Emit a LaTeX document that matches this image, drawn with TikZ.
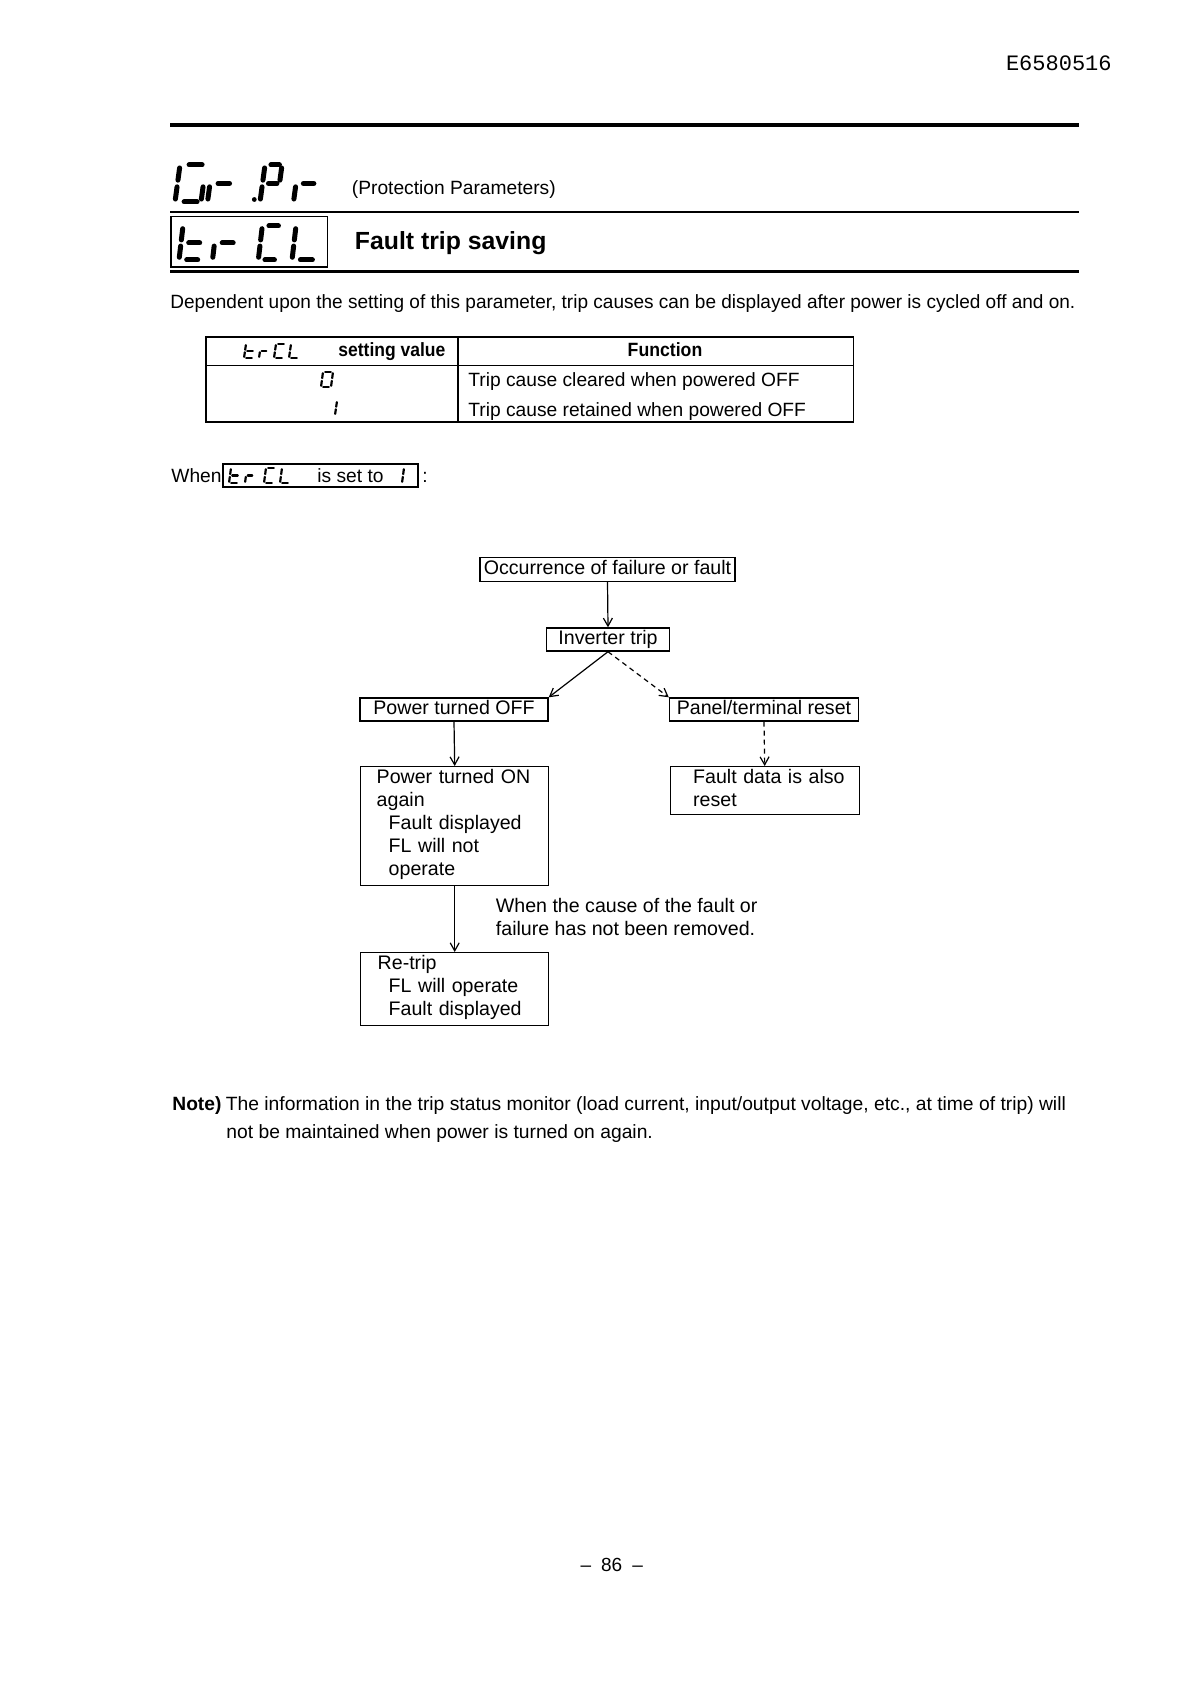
\documentclass[tikz,border=0pt]{standalone}
\usepackage{graphicx}
\usepackage{fontspec}
\setmainfont{Liberation Sans}
\newfontfamily\monof{Liberation Mono}
\usetikzlibrary{arrows.meta}
\newlength\fwtmp
\newcommand\fitw[2]{\settowidth\fwtmp{#2}\pgfmathsetmacro\fwfac{#1/\fwtmp}\global\let\lastfac\fwfac\scalebox{\fwfac}[1]{#2}}
\newcommand\fs{\fontsize{9.8}{11.5}\selectfont}
\newcommand\bodyf{\fontsize{9.6}{12}\selectfont}
\newcommand\dstrut[1]{\rule[-#1]{0pt}{#1}}
% seven-segment parts (local cell: u 0..1, v 0..1)
\def\sgL{0.22}\def\sgR{0.78}
\newcommand\ssga{\draw[segln] (\sgL,1)--(\sgR,1);}
\newcommand\ssgb{\draw[segln] (1,0.92)--(1,0.59);}
\newcommand\ssgc{\draw[segln] (1,0.41)--(1,0.08);}
\newcommand\ssgd{\draw[segln] (\sgL,0)--(\sgR,0);}
\newcommand\ssge{\draw[segln] (0,0.41)--(0,0.08);}
\newcommand\ssgf{\draw[segln] (0,0.92)--(0,0.59);}
\newcommand\ssgg{\draw[segln] (\sgL,0.5)--(\sgR,0.5);}
% #1 x0, #2 y bottom, #3 width, #4 height, #5 slant, #6 segments, #7 line width
\newcommand\sevdigit[7]{%
  \begin{scope}[shift={(#1,#2)}, y={(#5,-#4)}, x={(#3,0)}, segln/.style={line width=#7, line cap=round}]
  \foreach \sg in {#6}{\csname ssg\sg\endcsname}
  \end{scope}}
\tikzset{
  fbox/.style={draw, line width=0.7pt, inner sep=0pt, font=\fs, text height=7.3pt, text depth=2.1pt},
  mbox/.style={draw, line width=0.7pt, inner xsep=0pt, inner ysep=1.5pt, font=\fs, align=left, anchor=north west},
  txt/.style={inner sep=0pt, anchor=base west, font=\bodyf},
  arr/.style={line width=0.6pt, -{Straight Barb[length=4pt,width=4.5pt]}},
  dsh/.style={dash pattern=on 2.5pt off 2pt},
  rulethick/.style={line width=2pt},
  tline/.style={line width=0.7pt}
}
\begin{document}
\begin{tikzpicture}[x=0.5pt,y=-0.5pt]
\fill[white] (0,0) rectangle (1190,1684);
\useasboundingbox (0,0) rectangle (1190,1684);

% document number
\node[inner sep=0pt, anchor=base east, font=\monof\fontsize{11}{13}\selectfont] (docno) at (1112,71) {E6580516};

% rules
\draw[rulethick] (170,125) -- (1079,125);
\draw[line width=1.2pt] (170,212) -- (1079,212);
\draw[line width=1.5pt] (170,271.5) -- (1079,271.5);

% Gr.Pr
\def\sgL{0.35}\def\sgR{0.85}
\sevdigit{175}{202}{26}{37}{5}{a,f,e,d,c}{2.5pt}
\sevdigit{207.5}{202}{23}{37}{5}{e,g}{2.5pt}
\fill (254.3,199.5) circle (2.4);
\sevdigit{260}{202}{17}{37}{5}{a,b,f,g,e}{2.5pt}
\sevdigit{293.5}{202}{21}{37}{5}{e,g}{2.5pt}
\node[txt] (prot) at (351.5,195) {(Protection Parameters)};

% trCL title box
\draw[line width=0.8pt] (171,216.5) rectangle (327.5,267);
\sevdigit{179}{260}{22}{34}{4}{f,e,g,d}{2.5pt}
\sevdigit{212.5}{260}{22}{34}{4}{e,g}{2.5pt}
\sevdigit{258.3}{260}{19}{34}{4}{a,f,e,d}{2.5pt}
\sevdigit{292}{260}{24}{34}{4}{f,e,d}{2.5pt}
\def\sgL{0.22}\def\sgR{0.78}
\node[txt, font=\bfseries\fontsize{12.4}{14}\selectfont] (title) at (354.5,250) {Fault trip saving};

\node[txt] (dep) at (170,309) {\fitw{452.5}{Dependent upon the setting of this parameter, trip causes can be displayed after power is cycled off and on.}};

% table
\draw[tline] (206,337) rectangle (853.5,422);
\draw[tline] (206,365.5) -- (853.5,365.5);
\draw[tline] (458,337) -- (458,422);
\sevdigit{244}{358}{10}{14}{2}{f,e,g,d}{1.1pt}
\sevdigit{259}{358}{8}{14}{2}{e,g}{1.1pt}
\sevdigit{274}{358}{10}{14}{2}{a,f,e,d}{1.1pt}
\sevdigit{289}{358}{10}{14}{2}{f,e,d}{1.1pt}
\node[txt, font=\bodyf\bfseries] (setv) at (338,357) {\fitw{53.5}{setting value}};
\node[txt, anchor=base, font=\bodyf\bfseries] (func) at (665,357) {\fitw{37.3}{Function}};
\sevdigit{321}{387}{10}{15}{2}{a,b,c,d,e,f}{1.1pt}
\sevdigit{325}{415}{10}{14}{2}{b,c}{1.1pt}
\node[txt] (row0) at (468,387) {Trip cause cleared when powered OFF};
\node[txt] (row1) at (468,416) {Trip cause retained when powered OFF};

% When ... is set to 1
\node[txt] (when) at (171,482) {When};
\draw[tline] (223,464) rectangle (418,487);
\sevdigit{229}{483}{10}{15}{2}{f,e,g,d}{1.1pt}
\sevdigit{245}{483}{8}{15}{2}{e,g}{1.1pt}
\sevdigit{264}{483}{10}{15}{2}{a,f,e,d}{1.1pt}
\sevdigit{280}{483}{10}{15}{2}{f,e,d}{1.1pt}
\node[txt] (isset) at (317,482) {is set to};
\sevdigit{392}{483}{10}{15}{2}{b,c}{1.1pt}
\node[txt] (colon) at (422,482) {:};

% flowchart
\node[fbox, minimum width=127.5pt, minimum height=12pt] (occ) at (607.5,569.5) {Occurrence of failure or fault};
\node[fbox, minimum width=61.5pt, minimum height=11.5pt] (inv) at (608,639.5) {Inverter trip};
\node[fbox, minimum width=94pt, minimum height=11.5pt] (poff) at (454,709.5) {Power turned OFF};
\node[fbox, minimum width=94.5pt, minimum height=11.5pt] (panel) at (764,709.5) {Panel/terminal reset};
\node[mbox, text width=94pt] (pon) at (360,766)
  {\hspace*{8pt}Power turned ON\\\hspace*{8pt}again\\\hspace*{14pt}Fault displayed\\\hspace*{14pt}FL will not\\\hspace*{14pt}operate\dstrut{3.2pt}};
\node[mbox, text width=94.5pt] (fdata) at (669.5,766)
  {\hspace*{11.5pt}Fault data is also\\\hspace*{11.5pt}reset\dstrut{2.2pt}};
\node[mbox, text width=94pt] (retrip) at (360,952)
  {\hspace*{8.5pt}Re-trip\\\hspace*{14pt}FL will operate\\\hspace*{14pt}Fault displayed\dstrut{3.2pt}};
\node[inner sep=0pt, anchor=north west, align=left, font=\fs] (cond) at (495.5,897.5)
  {When the cause of the fault or\\failure has not been removed.};

\draw[arr] (occ.south) -- (inv.north);
\draw[arr] (inv.south) -- (poff.north east);
\draw[arr, dsh] (inv.south) -- (panel.north west);
\draw[arr] (poff.south) -- (pon.north);
\draw[arr, dsh] (panel.south) -- (fdata.north);
\draw[arr] (pon.south) -- (retrip.north);

% note
\node[txt, font=\bodyf\bfseries] (note) at (172,1110.5) {Note)};
\node[txt] (note1) at (225.5,1110.5) {\fitw{420}{The information in the trip status monitor (load current, input/output voltage, etc., at time of trip) will}};
\node[txt] (note2) at (226,1138.5) {\scalebox{\lastfac}[1]{not be maintained when power is turned on again.}};

% page number
\node[inner sep=0pt, anchor=base, font=\fontsize{9.5}{11}\selectfont] (pgno) at (611.7,1571) {–\hspace{5pt}86\hspace{5pt}–};
\end{tikzpicture}
\end{document}
